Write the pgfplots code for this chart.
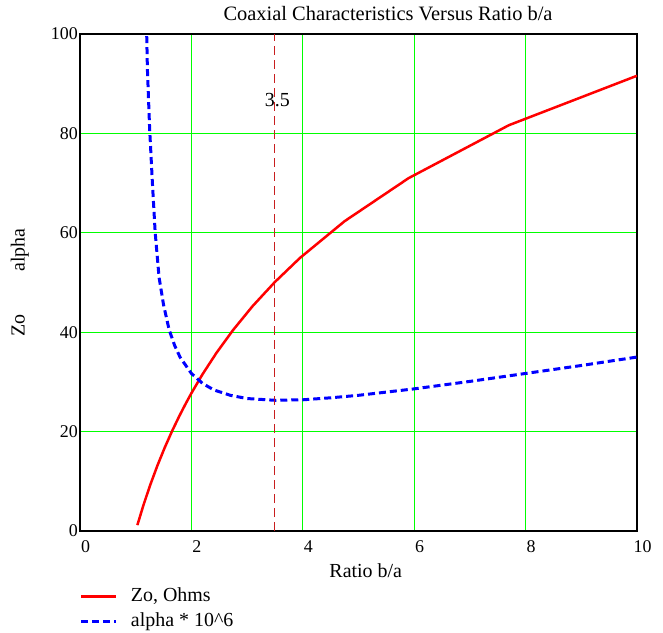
\documentclass[border=0pt]{standalone}
\usepackage{fontspec}
\setmainfont{Liberation Serif}
\usepackage{pgfplots}
\pgfplotsset{compat=1.18}
\definecolor{gridgreen}{RGB}{0,255,0}
\begin{document}
\begin{tikzpicture}
\begin{axis}[
  at={(0,0)}, anchor=south west,
  scale only axis,
  width=557bp, height=497bp,
  xmin=0, xmax=10, ymin=0, ymax=100,
  xtick={0,2,...,10}, ytick={0,20,...,100},
  grid=major,
  major grid style={gridgreen, line width=1.2bp},
  axis line style={black, line width=1.2bp},
  major tick length=0pt,
  /pgf/number format/assume math mode=true,
  tick label style={font=\fontsize{18}{20}\selectfont},
  xticklabel style={anchor=north, yshift=-9bp, xshift=5.5bp, inner sep=0pt},
  yticklabel style={anchor=east, xshift=-2bp, inner sep=0pt},
  title={Coaxial Characteristics Versus Ratio b/a},
  title style={font=\fontsize{20.5}{23}\selectfont, at={(axis description cs:0.553,1)}, anchor=base, yshift=7.3bp, inner sep=0pt},
  xlabel={Ratio b/a},
  xlabel style={font=\fontsize{20}{22}\selectfont, at={(axis description cs:0.513,0)}, anchor=base, yshift=-46bp, inner sep=0pt},
  ylabel={Zo\hspace{43bp}alpha},
  ylabel style={font=\fontsize{20}{22}\selectfont, at={(axis description cs:-0.108,0.5)}, anchor=center, inner sep=0pt},
  legend style={at={(axis description cs:0,0)}, anchor=north west, yshift=-56bp,
    draw=none, fill=none, inner sep=0pt, outer sep=0pt,
    font=\fontsize{20}{22}\selectfont,
    nodes={inner sep=0pt, text height=14bp, text depth=5bp},
    row sep=6bp, column sep=13bp},
  legend cell align=left,
  legend image code/.code={\draw[#1] (0bp,0bp) -- (35bp,0bp);},
]
\addplot[red, line width=2.5bp] coordinates {
(1.03,1.18) (1.14,5.24) (1.26,9.24) (1.39,13.17) (1.52,16.75) (1.65,20.03)
(1.78,23.06) (1.9,25.67) (2.0,27.73) (2.2,31.54) (2.45,35.84) (2.75,40.46)
(3.1,45.26) (3.5,50.11) (3.95,54.95) (4.75,62.33) (5.9,71.00) (7.7,81.65) (10,91.6)
};
\addlegendentry{Zo, Ohms}
\addplot[blue, line width=3bp, dash pattern=on 7bp off 4bp] coordinates {
(1.19,104) (1.21,93) (1.25,81) (1.30,70) (1.35,60) (1.42,51) (1.5,45.5)
(1.6,40.5) (1.7,37.3) (1.8,34.9) (2.0,31.7) (2.2,29.7) (2.4,28.4) (2.7,27.3)
(3.0,26.65) (3.5,26.3) (4.0,26.4) (4.5,26.8) (5.0,27.3) (6.0,28.6) (7.0,30.1)
(8.0,31.7) (9.0,33.3) (10,35.0)
};
\addlegendentry{alpha * 10\^{}6}
\addplot[color={rgb,255:red,200;green,30;blue,30}, line width=1bp, dash pattern=on 9bp off 5bp, forget plot] coordinates {(3.5,0) (3.5,100)};
\node[font=\fontsize{20}{22}\selectfont, inner sep=0pt, xshift=2.5bp] at (axis cs:3.5,86.7) {3.5};
\end{axis}
\pgfresetboundingbox
\path[use as bounding box] (-80bp,-102bp) rectangle (583bp,531bp);
\end{tikzpicture}
\end{document}
